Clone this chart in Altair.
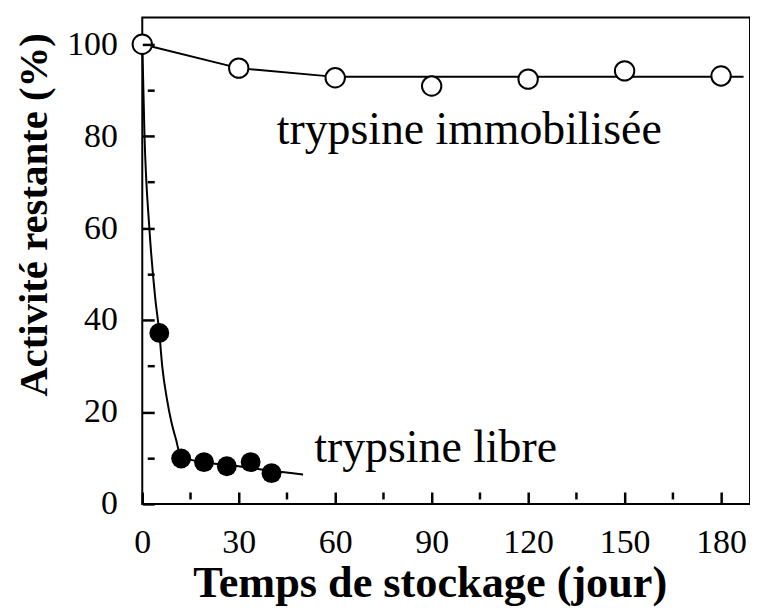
import altair as alt
import pandas as pd

# ---- data ----
imm_days = [0, 30, 60, 90, 120, 150, 180]
imm_vals = [100, 94.8, 92.7, 90.9, 92.4, 94.2, 93.1]
imm_fit_days = [0, 30, 60, 187]
imm_fit_vals = [100, 94.8, 92.9, 92.9]

free_days = [0, 5.3, 12.1, 19.2, 26.3, 33.7, 40.2]
free_vals = [100, 37.2, 9.9, 9.1, 8.2, 9.1, 6.7]
free_fit_days = [0, 0.7, 2.2, 4.0, 5.3, 6.2, 7.7, 9.0, 10.5, 12.0, 20, 30, 40, 50]
free_fit_vals = [100, 80, 60, 45, 37.2, 30, 22.7, 18, 14, 10.3, 9.0, 8.2, 7.2, 6.4]

x_ticks = [0, 15, 30, 45, 60, 75, 90, 105, 120, 135, 150, 165, 180]
y_ticks = [0, 10, 20, 30, 40, 50, 60, 70, 80, 90, 100]

labels = ["trypsine immobilisée", "trypsine libre"]
label_x = [41.8, 53.5]
label_y = [78.4, 9.1]

FONT = "Liberation Serif"

imm_pts = pd.DataFrame({"d": imm_days, "v": imm_vals})
imm_fit = pd.DataFrame({"d": imm_fit_days, "v": imm_fit_vals})
free_pts = pd.DataFrame({"d": free_days, "v": free_vals})
free_fit = pd.DataFrame({"d": free_fit_days, "v": free_fit_vals})
ann = pd.DataFrame({"t": labels, "d": label_x, "v": label_y})

xs = alt.Scale(domain=[0, 189], nice=False, zero=False)
ys = alt.Scale(domain=[0, 105.8], nice=False, zero=False)

x_axis = alt.Axis(
    orient="bottom", values=x_ticks, offset=-12,
    tickSize={"condition": {"test": "datum.value % 30 === 0", "value": 12}, "value": 7},
    tickWidth=2.5, tickColor="black", domain=False, grid=False, zindex=1,
    labelExpr="datum.value % 30 === 0 ? datum.label : ''",
    labelFont=FONT, labelFontSize=34, labelColor="black", labelPadding=22,
    labelFlush=False, labelOverlap=False,
    title="Temps de stockage (jour)", titleFont=FONT, titleFontSize=44.5,
    titleFontWeight="bold", titleColor="black", titleX=289, titleY=105,
    titleAlign="center", titleBaseline="alphabetic", titleAnchor="start")
y_axis = alt.Axis(
    orient="left", values=y_ticks, offset=-12,
    tickSize={"condition": {"test": "datum.value % 20 === 0", "value": 12}, "value": 7},
    tickWidth=2.5, tickColor="black", domain=False, grid=False, zindex=1,
    labelExpr="datum.value % 20 === 0 ? datum.label : ''",
    labelFont=FONT, labelFontSize=34, labelColor="black", labelPadding=25,
    labelFlush=False, labelOverlap=False,
    title="Activité restante (%)", titleFont=FONT, titleFontSize=41,
    titleFontWeight="bold", titleColor="black", titleX=-108, titleY=198,
    titleAngle=-90, titleAlign="center", titleBaseline="alphabetic", titleAnchor="start")

free_line = alt.Chart(free_fit).mark_line(color="black", strokeWidth=2, interpolate="monotone").encode(
    x=alt.X("d:Q", scale=xs, axis=x_axis),
    y=alt.Y("v:Q", scale=ys, axis=y_axis))
imm_line = alt.Chart(imm_fit).mark_line(color="black", strokeWidth=2).encode(
    x=alt.X("d:Q", scale=xs),
    y=alt.Y("v:Q", scale=ys))
free_mark = alt.Chart(free_pts).mark_point(shape="circle", filled=True, color="black", size=400, opacity=1).encode(
    x=alt.X("d:Q", scale=xs),
    y=alt.Y("v:Q", scale=ys))
imm_mark = alt.Chart(imm_pts).mark_point(shape="circle", filled=True, fill="white", stroke="black",
                                         strokeWidth=2, size=380, opacity=1).encode(
    x=alt.X("d:Q", scale=xs),
    y=alt.Y("v:Q", scale=ys))
text = alt.Chart(ann).mark_text(font=FONT, fontSize=46, align="left", baseline="alphabetic",
                                color="black").encode(
    x=alt.X("d:Q", scale=xs),
    y=alt.Y("v:Q", scale=ys),
    text="t:N")

chart = alt.layer(free_line, imm_line, free_mark, imm_mark, text).properties(
    width=611, height=489,
    autosize=alt.AutoSizeParams(type="none"),
    padding={"left": 135, "top": 8, "right": 0, "bottom": 102},
    background="white",
).configure_view(stroke="black", strokeWidth=2)

chart.save("out.html", embed_options={"renderer": "svg", "actions": False})
